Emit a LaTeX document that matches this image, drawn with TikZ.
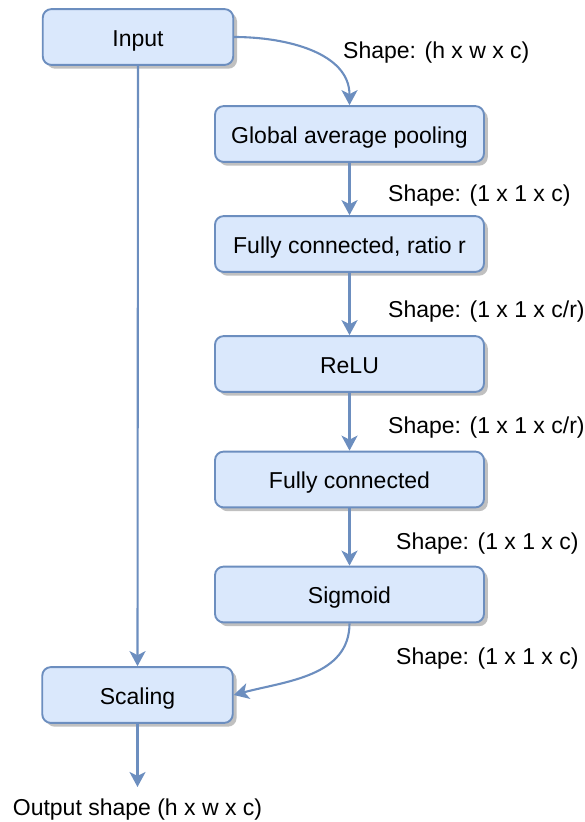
\documentclass[tikz,border=0pt]{standalone}
\usepackage{fontspec}
\setmainfont{Liberation Sans}
\usetikzlibrary{arrows.meta,shadows}
\definecolor{boxfill}{HTML}{DAE8FC}
\definecolor{boxline}{HTML}{6C8EBF}
\definecolor{shadowgray}{HTML}{C0C0C0}
\begin{document}
\begin{tikzpicture}[x=1pt,y=-1pt,
  txt/.style={font=\fontsize{23}{27}\selectfont, text height=18pt, text depth=0pt},
  box/.style={txt, draw=boxline, fill=boxfill, line width=1.9pt, rounded corners=8.6pt,
    minimum height=55.8pt, inner sep=0pt,
    drop shadow={shadow xshift=3.8pt,shadow yshift=-3.8pt,fill=shadowgray,opacity=1}},
  smallbox/.style={box, minimum width=190.5pt},
  widebox/.style={box, minimum width=269pt},
  lbl/.style={txt, inner sep=0pt, anchor=west},
  conn/.style={draw=boxline, line width=2.1pt, -{Stealth[length=15pt,width=16pt,inset=4pt]}}]
\useasboundingbox (0,0) rectangle (584,822);

\node[smallbox] (in)   at (138,37)    {Input};
\node[widebox]  (gap)  at (349.5,134) {Global average pooling};
\node[widebox]  (fc1)  at (349.5,244) {Fully connected, ratio r};
\node[widebox]  (relu) at (349.5,364) {ReLU};
\node[widebox]  (fc2)  at (349.5,479.5) {Fully connected};
\node[widebox]  (sig)  at (349.5,594.5) {Sigmoid};
\node[smallbox] (sc)   at (137.5,695) {Scaling};

\node[lbl] (l1) at (343,49)  {Shape: (h x w x c)};
\node[lbl] (l2) at (388,192) {Shape: (1 x 1 x c)};
\node[lbl] (l3) at (388,308) {Shape: (1 x 1 x c/r)};
\node[lbl] (l4) at (388,424) {Shape: (1 x 1 x c/r)};
\node[lbl] (l5) at (396,540) {Shape: (1 x 1 x c)};
\node[lbl] (l6) at (396,655) {Shape: (1 x 1 x c)};
\node[txt, inner sep=0pt] (outl) at (137.5,806) {Output shape (h x w x c)};

\coordinate (outp) at (137.5,787);

\draw[conn] (in.east) to[out=0,in=90] (gap.north);
\draw[conn] (gap.south) -- (fc1.north);
\draw[conn] (fc1.south) -- (relu.north);
\draw[conn] (relu.south) -- (fc2.north);
\draw[conn] (fc2.south) -- (sig.north);
\draw[conn] (sig.south) to[out=-90,in=15] (sc.east);
\draw[conn] (in.south) -- (sc.north);
\draw[conn] (sc.south) -- (outp);
\end{tikzpicture}
\end{document}
